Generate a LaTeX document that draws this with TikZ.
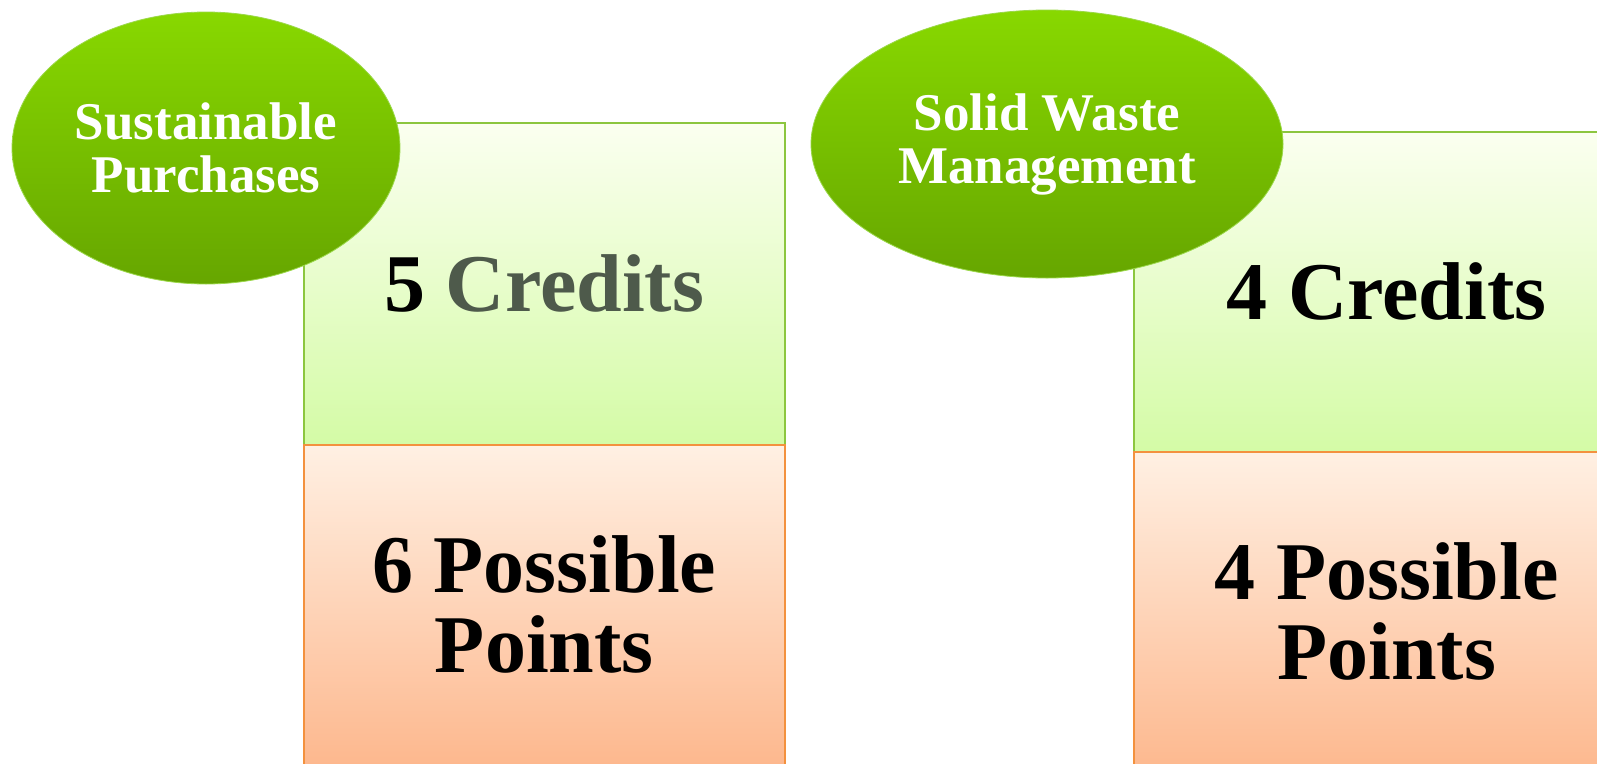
\documentclass[tikz,border=0pt]{standalone}
\usepackage{fontspec}
\setmainfont{Liberation Serif}
\usetikzlibrary{shapes.geometric}
\definecolor{leafgreen}{HTML}{88D800}
\definecolor{leafdark}{HTML}{66A600}
\definecolor{leafrim}{HTML}{9BD84A}
\definecolor{mintlight}{HTML}{FBFFF0}
\definecolor{mintdark}{HTML}{D4FBA6}
\definecolor{mintline}{HTML}{8CC63F}
\definecolor{peachlight}{HTML}{FFF0E3}
\definecolor{peachdark}{HTML}{FDB88E}
\definecolor{peachline}{HTML}{F3913E}
\definecolor{slategray}{HTML}{4E5A4B}
\tikzset{
  topic/.style={ellipse, inner sep=0pt, top color=leafgreen, bottom color=leafdark,
    draw=leafrim, line width=0.8pt, text=white, align=center,
    font=\fontsize{53}{53}\selectfont\bfseries},
  creditbox/.style={anchor=north west, inner sep=0pt, draw=mintline, line width=1.5pt,
    top color=mintlight, bottom color=mintdark, align=center,
    font=\fontsize{82}{80}\selectfont\bfseries},
  pointbox/.style={anchor=north west, inner sep=0pt, draw=peachline, line width=1.5pt,
    top color=peachlight, bottom color=peachdark, align=center,
    font=\fontsize{82}{80}\selectfont\bfseries}
}
\begin{document}
\begin{tikzpicture}[x=1pt,y=-1pt]
  \useasboundingbox (0,0) rectangle (1597,763);
  \node[creditbox, minimum width=481pt, minimum height=322pt] (credits1) at (303,122)
    {5 \textcolor{slategray}{Credits}};
  \node[pointbox, minimum width=481pt, minimum height=320pt] (points1) at (303,444)
    {6 Possible\\Points};
  \node[creditbox, minimum width=506pt, minimum height=320pt] (credits2) at (1133,131)
    {4 Credits};
  \node[pointbox, minimum width=506pt, minimum height=320pt] (points2) at (1133,451)
    {4 Possible\\Points};
  \node[topic, minimum width=388pt, minimum height=272pt] (purchases) at (206,148)
    {Sustainable\\Purchases};
  \node[topic, minimum width=472pt, minimum height=268pt] (waste) at (1047,144)
    {Solid Waste\\Management};
\end{tikzpicture}
\end{document}
